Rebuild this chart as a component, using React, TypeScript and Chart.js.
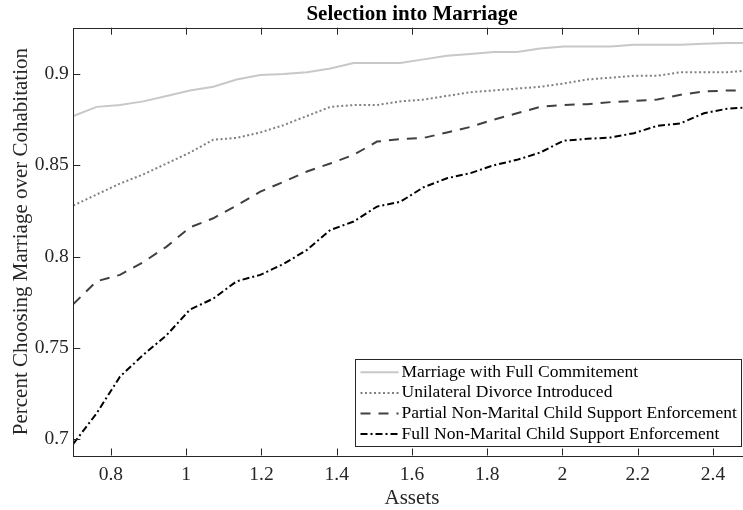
import React, { useEffect, useRef } from 'react';
import { Chart, registerables } from 'chart.js';

Chart.register(...registerables);

const assets = [
  0.7, 0.762, 0.824, 0.886, 0.948, 1.01, 1.072, 1.134, 1.197, 1.259,
  1.321, 1.383, 1.445, 1.507, 1.569, 1.631, 1.693, 1.755, 1.817, 1.879,
  1.941, 2.003, 2.066, 2.128, 2.19, 2.252, 2.314, 2.376, 2.438, 2.5,
];

const fullCommitment = [
  0.877, 0.882, 0.883, 0.885, 0.888, 0.891, 0.893, 0.897, 0.8995, 0.9,
  0.901, 0.903, 0.906, 0.906, 0.906, 0.908, 0.91, 0.911, 0.912, 0.912,
  0.914, 0.915, 0.915, 0.915, 0.916, 0.916, 0.916, 0.9165, 0.917, 0.917,
];

const unilateralDivorce = [
  0.828, 0.834, 0.84, 0.845, 0.851, 0.857, 0.864, 0.865, 0.868, 0.872,
  0.877, 0.882, 0.883, 0.883, 0.885, 0.886, 0.888, 0.89, 0.891, 0.892,
  0.893, 0.8948, 0.897, 0.898, 0.899, 0.899, 0.901, 0.901, 0.901, 0.902,
];

const partialEnforcement = [
  0.774, 0.7865, 0.79, 0.797, 0.8055, 0.816, 0.821, 0.828, 0.8356, 0.841,
  0.8466, 0.851, 0.8557, 0.863, 0.8643, 0.865, 0.868, 0.871, 0.875, 0.8785,
  0.882, 0.883, 0.8835, 0.8846, 0.8853, 0.886, 0.8886, 0.8904, 0.891, 0.891,
];

const fullEnforcement = [
  0.6975, 0.7142, 0.7343, 0.7462, 0.757, 0.771, 0.777, 0.7865, 0.79, 0.796,
  0.8037, 0.8146, 0.8192, 0.8274, 0.83, 0.838, 0.8429, 0.8457, 0.85, 0.853,
  0.857, 0.8635, 0.8645, 0.8652, 0.8676, 0.8716, 0.873, 0.8785, 0.881, 0.8818,
];

const seriesLabels = [
  'Marriage with Full Commitement',
  'Unilateral Divorce Introduced',
  'Partial Non-Marital Child Support Enforcement',
  'Full Non-Marital Child Support Enforcement',
];

const xTicks = [0.8, 1, 1.2, 1.4, 1.6, 1.8, 2, 2.2, 2.4];
const xTickLabels = ['0.8', '1', '1.2', '1.4', '1.6', '1.8', '2', '2.2', '2.4'];
const yTicks = [0.7, 0.75, 0.8, 0.85, 0.9];
const yTickLabels = ['0.7', '0.75', '0.8', '0.85', '0.9'];

const SERIF = '"Liberation Serif", "Times New Roman", Times, serif';
const AXIS = '#262626';

const framePlugin = {
  id: 'frameAndLegend',
  afterDatasetsDraw(chart: any) {
    const { ctx, chartArea: a, scales } = chart;
    const L = 7;
    ctx.save();
    ctx.strokeStyle = AXIS;
    ctx.lineWidth = 1;
    ctx.setLineDash([]);
    ctx.beginPath();
    for (const t of scales.x.ticks) {
      const px = Math.round(scales.x.getPixelForValue(t.value)) + 0.5;
      ctx.moveTo(px, a.bottom);
      ctx.lineTo(px, a.bottom - L);
      ctx.moveTo(px, a.top);
      ctx.lineTo(px, a.top + L);
    }
    for (const t of scales.y.ticks) {
      const py = Math.round(scales.y.getPixelForValue(t.value)) + 0.5;
      ctx.moveTo(a.left, py);
      ctx.lineTo(a.left + L, py);
      ctx.moveTo(a.right, py);
      ctx.lineTo(a.right - L, py);
    }
    ctx.stroke();
    ctx.strokeRect(Math.round(a.left) + 0.5, Math.round(a.top) + 0.5,
      Math.round(a.right - a.left), Math.round(a.bottom - a.top));

    // legend
    const fontSize = 17.5;
    ctx.font = `${fontSize}px ${SERIF}`;
    const ds = chart.data.datasets;
    let maxW = 0;
    for (const d of ds) maxW = Math.max(maxW, ctx.measureText(d.label).width);
    const rowH = 20.6;
    const pad = 2.5;
    const w = 46 + maxW + 5;
    const h = ds.length * rowH + pad * 2;
    const right = Math.round(a.right - 10) + 0.5;
    const bottom = Math.round(a.bottom - 10) + 0.5;
    const left = Math.round(right - w) + 0.5;
    const top = Math.round(bottom - h) + 0.5;
    ctx.fillStyle = '#fff';
    ctx.fillRect(left, top, right - left, bottom - top);
    ctx.strokeStyle = AXIS;
    ctx.lineWidth = 1;
    ctx.strokeRect(left, top, right - left, bottom - top);
    ds.forEach((d: any, i: number) => {
      const cy = top + pad + rowH * (i + 0.5);
      ctx.save();
      ctx.strokeStyle = d.borderColor;
      ctx.lineWidth = d.borderWidth;
      ctx.setLineDash(d.borderDash || []);
      ctx.beginPath();
      ctx.moveTo(left + 5, cy);
      ctx.lineTo(left + 43, cy);
      ctx.stroke();
      ctx.restore();
      ctx.fillStyle = '#000';
      ctx.textAlign = 'left';
      ctx.textBaseline = 'middle';
      ctx.fillText(d.label, left + 46, cy);
    });
    ctx.restore();
  },
};

export default function App() {
  const ref = useRef<HTMLCanvasElement>(null);

  useEffect(() => {
    if (!ref.current) return;
    const mk = (vals: number[]) => assets.map((x, i) => ({ x, y: vals[i] }));
    const chart = new Chart(ref.current, {
      type: 'line',
      data: {
        datasets: [
          { label: seriesLabels[0], data: mk(fullCommitment), borderColor: '#c8c8c8', borderWidth: 2, pointRadius: 0, tension: 0 },
          { label: seriesLabels[1], data: mk(unilateralDivorce), borderColor: '#808080', borderWidth: 2, borderDash: [2, 2.5], pointRadius: 0, tension: 0 },
          { label: seriesLabels[2], data: mk(partialEnforcement), borderColor: '#404040', borderWidth: 2, borderDash: [10, 8], pointRadius: 0, tension: 0 },
          { label: seriesLabels[3], data: mk(fullEnforcement), borderColor: '#000000', borderWidth: 2, borderDash: [7, 3, 2, 3], pointRadius: 0, tension: 0 },
        ],
      },
      options: {
        animation: false,
        responsive: false,
        maintainAspectRatio: false,
        devicePixelRatio: 1,
        layout: { padding: { left: 0, right: 9.4, top: 0, bottom: 0 } },
        plugins: {
          legend: { display: false },
          tooltip: { enabled: false },
          title: {
            display: true,
            fullSize: false,
            text: 'Selection into Marriage',
            color: '#000',
            font: { family: SERIF, size: 21, weight: 'bold', lineHeight: 1.2 },
            padding: { top: 2, bottom: 0.5 },
          },
        },
        scales: {
          x: {
            type: 'linear',
            min: 0.7,
            max: 2.5,
            afterBuildTicks: (s: any) => { s.ticks = xTicks.map((v) => ({ value: v })); },
            afterFit: (s: any) => { s.height = 64.5; },
            grid: { display: false, drawTicks: false },
            border: { display: false },
            ticks: {
              autoSkip: false,
              maxRotation: 0,
              padding: 7.5,
              color: '#262626',
              font: { family: SERIF, size: 19.5 },
              callback: (_v: any, i: number) => xTickLabels[i],
            },
            title: {
              display: true,
              text: 'Assets',
              color: '#262626',
              font: { family: SERIF, size: 21, lineHeight: 1.2 },
              padding: { top: 0, bottom: 9 },
            },
          },
          y: {
            type: 'linear',
            min: 0.6911,
            max: 0.92535,
            afterBuildTicks: (s: any) => { s.ticks = yTicks.map((v) => ({ value: v })); },
            afterFit: (s: any) => { s.width = 73.3; },
            grid: { display: false, drawTicks: false },
            border: { display: false },
            ticks: {
              autoSkip: false,
              padding: 4.5,
              color: '#262626',
              font: { family: SERIF, size: 19.5 },
              callback: (_v: any, i: number) => yTickLabels[i],
            },
            title: {
              display: true,
              text: 'Percent Choosing Marriage over Cohabitation',
              color: '#262626',
              font: { family: SERIF, size: 21, lineHeight: 1.2 },
              padding: { top: 8.5, bottom: 0 },
            },
          },
        },
      } as any,
      plugins: [framePlugin],
    });
    return () => chart.destroy();
  }, []);

  return (
    <div style={{ position: 'fixed', left: 0, top: 0, width: 743, height: 510, overflow: 'hidden', background: '#fff' }}>
      <canvas ref={ref} width={760} height={520} style={{ display: 'block', width: 760, height: 520 }} />
    </div>
  );
}
